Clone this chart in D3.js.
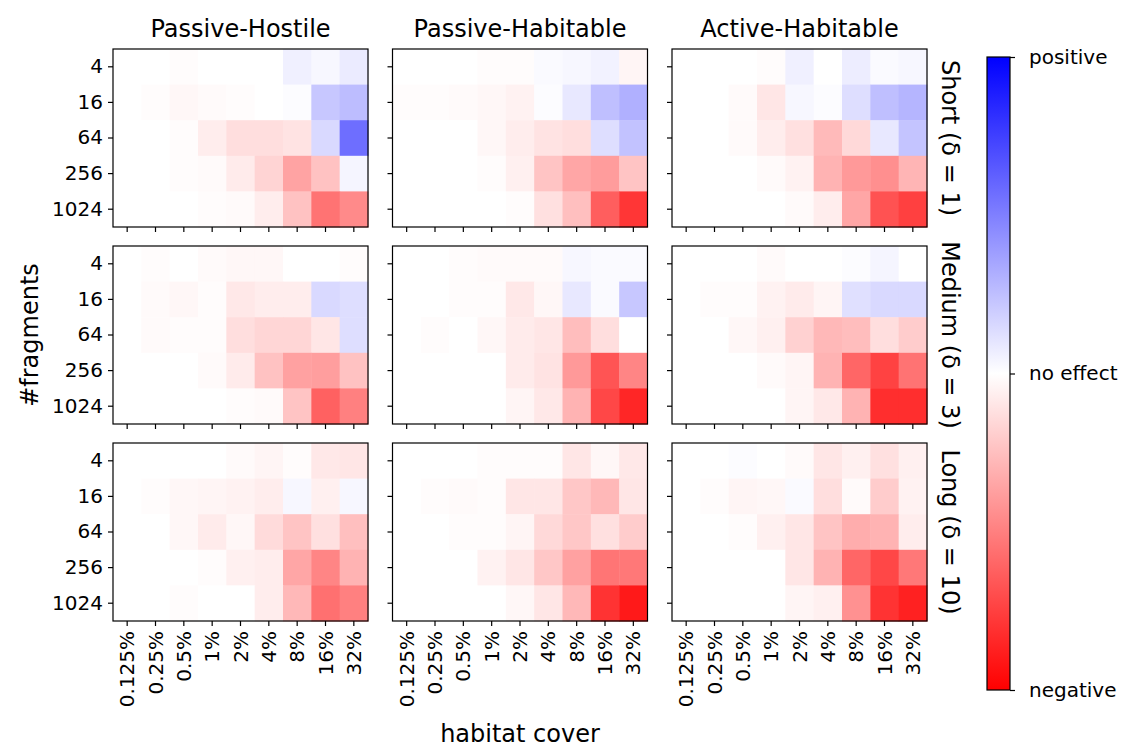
<!DOCTYPE html>
<html><head><meta charset="utf-8">
<script src="https://cdn.jsdelivr.net/npm/d3@7"></script>
<style>body{margin:0;background:#fff;} text{font-family:"DejaVu Sans",sans-serif;fill:#000;}</style>
</head><body><svg id="c" width="1126" height="749"></svg>
<script>
const covers = ["0.125%","0.25%","0.5%","1%","2%","4%","8%","16%","32%"];
const fragments = ["4","16","64","256","1024"];
const strategies = ["Passive-Hostile","Passive-Habitable","Active-Habitable"];
const distances = ["Short (\u03b4 = 1)","Medium (\u03b4 = 3)","Long (\u03b4 = 10)"];
const cbTicks = [{v:1,l:"positive"},{v:0,l:"no effect"},{v:-1,l:"negative"}];
// effect values: positive = blue, negative = red; rows = fragments, cols = covers
const shortPH = [
 [0,0,-0.01,0,0,0,0.06,0.03,0.08],
 [0,-0.01,-0.03,-0.02,-0.01,0,0.01,0.22,0.26],
 [0,0,-0.01,-0.07,-0.13,-0.13,-0.11,0.15,0.57],
 [0,0,-0.01,-0.02,-0.08,-0.17,-0.36,-0.24,0.04],
 [0,0,0,-0.01,-0.02,-0.07,-0.24,-0.55,-0.46]];
const shortPHab = [
 [0,0,0,-0.01,-0.01,0.02,0.03,0.05,-0.04],
 [-0.01,-0.01,-0.02,-0.03,-0.05,0.01,0.09,0.25,0.31],
 [0,0,0,-0.03,-0.07,-0.11,-0.13,0.13,0.24],
 [0,0,0,-0.01,-0.06,-0.23,-0.35,-0.39,-0.23],
 [0,0,0,0,-0.01,-0.12,-0.25,-0.63,-0.79]];
const shortAHab = [
 [0,0,0,-0.01,0.06,0,0.07,0.02,0.03],
 [0,0,-0.02,-0.1,0.03,0.01,0.13,0.25,0.29],
 [0,0,-0.02,-0.07,-0.12,-0.27,-0.15,0.09,0.23],
 [0,0,0,-0.02,-0.05,-0.3,-0.4,-0.44,-0.29],
 [0,0,0,0,-0.02,-0.07,-0.35,-0.68,-0.75]];
const mediumPH = [
 [0,-0.01,0,-0.02,-0.03,-0.03,0,0,-0.01],
 [0,-0.02,-0.03,-0.01,-0.09,-0.07,-0.07,0.15,0.13],
 [0,-0.02,-0.01,-0.01,-0.13,-0.16,-0.16,-0.1,0.13],
 [0,0,0,-0.02,-0.08,-0.24,-0.37,-0.38,-0.24],
 [0,0,0,0,-0.01,-0.02,-0.23,-0.62,-0.5]];
const mediumPHab = [
 [0,0,-0.01,-0.02,-0.02,-0.02,0.03,0.02,0.02],
 [0,0,-0.01,-0.01,-0.09,-0.03,0.09,0.02,0.22],
 [0,-0.01,0,-0.03,-0.08,-0.1,-0.26,-0.13,0],
 [0,0,0,0,-0.08,-0.11,-0.4,-0.67,-0.48],
 [0,0,0,0,-0.04,-0.09,-0.3,-0.72,-0.85]];
const mediumAHab = [
 [0,0,0,-0.02,0,0,0.01,0.04,0],
 [0,-0.01,-0.01,-0.05,-0.08,-0.04,0.12,0.15,0.15],
 [0,0,-0.03,-0.06,-0.18,-0.28,-0.26,-0.13,-0.2],
 [0,0,0,-0.02,-0.04,-0.3,-0.6,-0.74,-0.55],
 [0,0,0,0,-0.04,-0.09,-0.3,-0.82,-0.82]];
const longPH = [
 [0,0,0,0,-0.02,-0.04,-0.01,-0.09,-0.1],
 [0,-0.01,-0.03,-0.04,-0.05,-0.07,0.03,-0.06,0.03],
 [0,0,-0.03,-0.08,-0.03,-0.14,-0.23,-0.12,-0.25],
 [0,0,0,-0.01,-0.06,-0.07,-0.35,-0.48,-0.3],
 [0,0,-0.01,0,0,-0.07,-0.28,-0.56,-0.5]];
const longPHab = [
 [0,0,0,-0.01,-0.01,-0.01,-0.1,-0.03,-0.09],
 [0,-0.01,-0.02,-0.01,-0.1,-0.1,-0.22,-0.28,-0.1],
 [0,0,-0.01,-0.01,-0.04,-0.15,-0.22,-0.12,-0.2],
 [0,0,0,-0.05,-0.1,-0.22,-0.37,-0.54,-0.53],
 [0,0,0,0,-0.03,-0.1,-0.28,-0.8,-0.9]];
const longAHab = [
 [0,0,0.01,0,-0.02,-0.1,-0.06,-0.12,-0.06],
 [0,-0.01,-0.04,-0.03,0.02,-0.13,-0.02,-0.2,-0.05],
 [0,0,-0.01,-0.06,-0.1,-0.23,-0.32,-0.3,-0.07],
 [0,0,0,0,-0.1,-0.3,-0.6,-0.72,-0.53],
 [0,0,0,0,-0.04,-0.06,-0.43,-0.8,-0.87]];
const grid = [[shortPH,shortPHab,shortAHab],[mediumPH,mediumPHab,mediumAHab],[longPH,longPHab,longAHab]];

const svg = d3.select("#c");
const color = d3.scaleLinear().domain([-1,0,1]).range(["#ff0000","#ffffff","#0000ff"]);
const L = 113, W = 255, GX = 24.5, T = 49, H = 178, GY = 19;
const fs = 20, fl = 24;

for (let r = 0; r < 3; r++) {
  for (let c = 0; c < 3; c++) {
    const x0 = L + c*(W+GX), y0 = T + r*(H+GY);
    const x = d3.scaleBand().domain(covers).range([0,W]);
    const y = d3.scaleBand().domain(fragments).range([0,H]);
    const g = svg.append("g").attr("transform",`translate(${x0},${y0})`);
    const data = grid[r][c];
    fragments.forEach((f,i)=>covers.forEach((cv,j)=>{
      g.append("rect").attr("x",x(cv)).attr("y",y(f)).attr("width",x.bandwidth()+0.5).attr("height",y.bandwidth()+0.5)
       .attr("fill",color(data[i][j]));
    }));
    const ax = g.append("g").attr("transform",`translate(0,${H})`).call(d3.axisBottom(x).tickSize(5).tickSizeOuter(0).tickFormat(r===2?null:""));
    const ay = g.append("g").call(d3.axisLeft(y).tickSize(5).tickSizeOuter(0).tickFormat(c===0?null:""));
    [ax,ay].forEach(a=>{a.select(".domain").remove(); a.selectAll("line").attr("stroke","#000").attr("stroke-width",1.2);
      a.selectAll("text").style("font-size",fs+"px").attr("fill","#000");});
    ay.selectAll("text").attr("x",-10);
    if (r===2) {
      ax.selectAll("text").attr("transform","rotate(-90)").attr("text-anchor","end").attr("x",-10).attr("y",0).attr("dy","0.35em");
    }
    g.append("rect").attr("width",W).attr("height",H).attr("fill","none").attr("stroke","#000").attr("stroke-width",1.2);
    if (r===0) g.append("text").attr("x",W/2).attr("y",-12).attr("text-anchor","middle").style("font-size",fl+"px").text(strategies[c]);
    if (c===2) g.append("text").attr("transform",`translate(${W+10},${H/2}) rotate(90)`).attr("text-anchor","middle").attr("dy","-0.22em").style("font-size",fl+"px").text(distances[r]);
  }
}
svg.append("text").attr("transform",`translate(38,${T+(3*H+2*GY)/2}) rotate(-90)`).attr("text-anchor","middle").style("font-size",fl+"px").text("#fragments");
svg.append("text").attr("x",L+(3*W+2*GX)/2).attr("y",742).attr("text-anchor","middle").style("font-size",fl+"px").text("habitat cover");

// colorbar
const cbX = 987, cbW = 23, cbT = 57, cbB = 690;
const defs = svg.append("defs");
const grad = defs.append("linearGradient").attr("id","cb").attr("x1",0).attr("y1",1).attr("x2",0).attr("y2",0);
d3.range(0,1.0001,0.1).forEach(t=>grad.append("stop").attr("offset",t).attr("stop-color",color(-1+2*t)));
svg.append("rect").attr("x",cbX).attr("y",cbT).attr("width",cbW).attr("height",cbB-cbT).attr("fill","url(#cb)").attr("stroke","#000").attr("stroke-width",1.2);
const cy = d3.scaleLinear().domain([-1,1]).range([cbB,cbT]);
const cax = svg.append("g").attr("transform",`translate(${cbX+cbW},0)`).call(d3.axisRight(cy).tickValues(cbTicks.map(d=>d.v)).tickSize(5).tickSizeOuter(0).tickFormat(v=>cbTicks.find(d=>d.v===v).l));
cax.select(".domain").remove();
cax.selectAll("line").attr("stroke","#000").attr("stroke-width",1.2);
cax.selectAll("text").style("font-size",fs+"px").attr("x",19).attr("fill","#000");
</script></body></html>
